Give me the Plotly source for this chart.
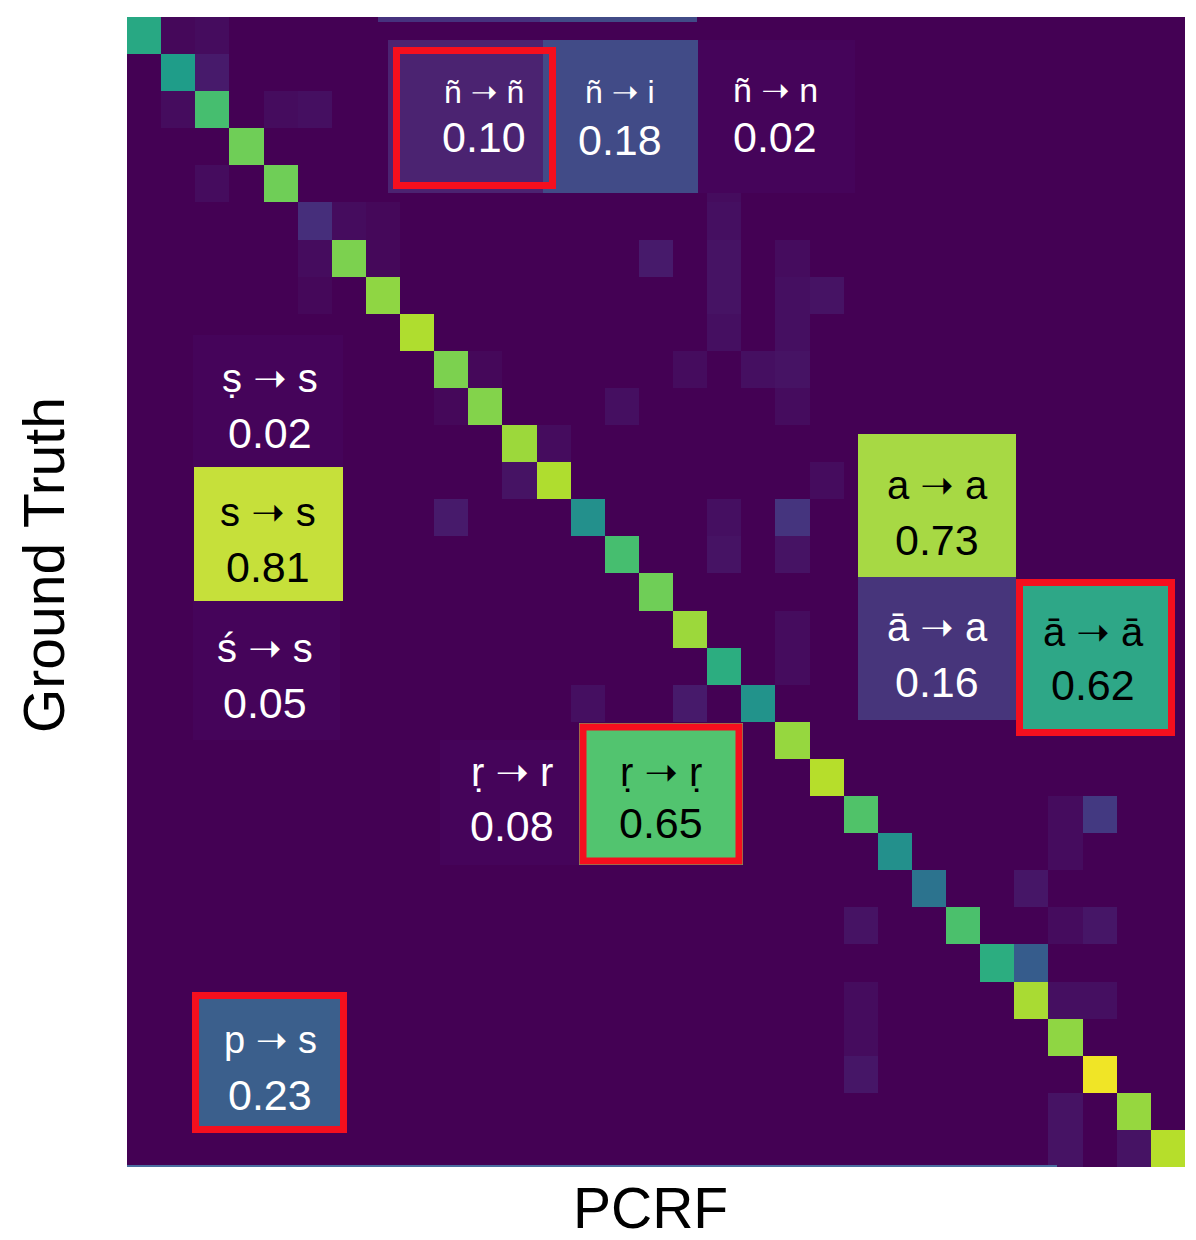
import numpy as np
import plotly.graph_objects as go

# Matrixgröße (Klassen)
N = 31

# Diagonale (Trefferquote je Klasse, aus Farbe geschätzt)
diag_vals = [0.60, 0.55, 0.70, 0.78, 0.78, 0.13, 0.80, 0.83, 0.88, 0.80, 0.81,
             0.85, 0.88, 0.50, 0.70, 0.78, 0.85, 0.62, 0.51, 0.84, 0.89, 0.72,
             0.50, 0.38, 0.71, 0.62, 0.87, 0.83, 0.98, 0.84, 0.89]

# Verwechslungen ausserhalb der Diagonale
off_rows = [0, 0, 1, 2, 2, 2, 4, 5, 5, 6, 6, 7, 4, 5, 6, 7, 8, 6, 9, 10, 9,
            6, 7, 8, 9, 10, 7, 13, 12, 11, 10, 9, 13, 14, 13, 14, 12, 18, 18,
            17, 16, 21, 21, 22, 23, 24, 24, 24, 25, 26, 27, 28, 26, 26, 29, 30, 30]
off_cols = [1, 2, 2, 1, 4, 5, 2, 6, 7, 5, 7, 5, 17, 17, 17, 17, 17, 15, 16, 14, 18,
            19, 19, 19, 19, 19, 20, 9, 11, 12, 9, 10, 17, 17, 19, 19, 20, 16, 13,
            19, 19, 28, 27, 27, 26, 28, 27, 21, 26, 21, 21, 21, 27, 28, 27, 27, 29]
off_vals = [0.02, 0.03, 0.07, 0.03, 0.03, 0.04, 0.03, 0.03, 0.02, 0.03, 0.02, 0.02,
            0.03, 0.04, 0.05, 0.05, 0.04, 0.07, 0.03, 0.04, 0.04,
            0.03, 0.04, 0.04, 0.05, 0.03, 0.05, 0.07, 0.05, 0.03, 0.02, 0.02,
            0.04, 0.05, 0.15, 0.05, 0.03, 0.07, 0.04, 0.03, 0.03,
            0.17, 0.03, 0.03, 0.06, 0.06, 0.03, 0.05, 0.29, 0.03, 0.03, 0.06,
            0.04, 0.04, 0.05, 0.05, 0.05]

# Hervorgehobene Ausschnitte: (Original, Vorhersage, Anteil)
box_src = ["ñ", "ñ", "ñ", "ṣ", "s", "ś", "a", "ā", "ā", "ṛ", "ṛ", "p"]
box_dst = ["ñ", "i", "n", "s", "s", "s", "a", "a", "ā", "r", "ṛ", "s"]
box_values = ["0.10", "0.18", "0.02", "0.02", "0.81", "0.05",
              "0.73", "0.16", "0.62", "0.08", "0.65", "0.23"]

z = np.zeros((N, N))
for i, v in enumerate(diag_vals):
    z[i, i] = v
for r, c, v in zip(off_rows, off_cols, off_vals):
    z[r, c] = v

# Plotfläche in Bildpixeln
L, T, W, H = 127, 17, 1058, 1150
OFF = 8  # Seitenrand des Browsers
def px(x):
    return (x - L) / W
def py(y):
    return 1 - (y - T) / H

# Position/Stil der Ausschnitte (Pixel im Bild)
faint = "#45045a"
boxes = [
    dict(rect=(388, 40, 543, 193), fill="#4b2371", tx=484, ty=(92, 137), fc="white", ls=32),
    dict(rect=(543, 40, 698, 193), fill="#414b87", tx=620, ty=(92, 140), fc="white", ls=32),
    dict(rect=(698, 40, 855, 193), fill=faint, tx=775, ty=(90, 137), fc="white", ls=34),
    dict(rect=(193, 335, 343, 467), fill=faint, tx=270, ty=(378, 433), fc="white", ls=40),
    dict(rect=(194, 467, 343, 601), fill="#c6e03a", tx=268, ty=(512, 567), fc="black", ls=40),
    dict(rect=(193, 601, 340, 740), fill=faint, tx=265, ty=(648, 703), fc="white", ls=40),
    dict(rect=(858, 434, 1016, 577), fill="#a7d944", tx=937, ty=(485, 540), fc="black", ls=40),
    dict(rect=(858, 577, 1016, 720), fill="#47357b", tx=937, ty=(627, 682), fc="white", ls=40),
    dict(rect=(1016, 579, 1175, 736), fill="#2ea787", tx=1093, ty=(632, 685), fc="black", ls=40),
    dict(rect=(440, 740, 579, 865), fill=faint, tx=512, ty=(772, 826), fc="white", ls=40),
    dict(rect=(579, 723, 743, 865), fill="#52c46f", tx=661, ty=(772, 823), fc="black", ls=40),
    dict(rect=(192, 992, 347, 1133), fill="#3b5f8c", tx=270, ty=(1040, 1095), fc="white", ls=38),
]
red_frames = [(396.5, 50.5, 552.5, 185.5), (1019.5, 582.5, 1171.5, 732.5),
              (583, 727, 739, 861), (195.5, 995.5, 343.5, 1129.5)]

fig = go.Figure()
fig.add_trace(go.Heatmap(z=z, x=list(range(N)), y=list(range(N)),
                         colorscale="Viridis", zmin=0, zmax=1, showscale=False,
                         hoverinfo="skip"))

shapes = []
# abgeschnittene Streifen oben
shapes.append(dict(type="rect", xref="paper", yref="paper", x0=px(378), x1=px(540),
                   y0=py(22), y1=py(17), fillcolor="#46327e", line_width=0))
shapes.append(dict(type="rect", xref="paper", yref="paper", x0=px(540), x1=px(697),
                   y0=py(22), y1=py(17), fillcolor="#414b87", line_width=0))
for b in boxes:
    x0, y0, x1, y1 = b["rect"]
    shapes.append(dict(type="rect", xref="paper", yref="paper", x0=px(x0), x1=px(x1),
                       y0=py(y1), y1=py(y0), fillcolor=b["fill"], line_width=0))
for x0, y0, x1, y1 in red_frames:
    shapes.append(dict(type="rect", xref="paper", yref="paper", x0=px(x0), x1=px(x1),
                       y0=py(y1), y1=py(y0), line=dict(color="#f50f1e", width=7)))
shapes.append(dict(type="line", xref="paper", yref="paper", x0=0, x1=px(1057),
                   y0=py(1166), y1=py(1166), line=dict(color="#4a6ea0", width=2)))

font = "Liberation Sans, Arial, sans-serif"
arrow = "<span style='font-family:DejaVu Sans'>➝</span>"
annotations = []
for b, s, d, val in zip(boxes, box_src, box_dst, box_values):
    annotations.append(dict(x=px(b["tx"]), y=py(b["ty"][0]), xref="paper", yref="paper",
                            text=f"{s} {arrow} {d}", showarrow=False,
                            xanchor="center", yanchor="middle",
                            font=dict(family=font, size=b["ls"], color=b["fc"])))
    annotations.append(dict(x=px(b["tx"]), y=py(b["ty"][1]), xref="paper", yref="paper",
                            text=val, showarrow=False, xanchor="center", yanchor="middle",
                            font=dict(family=font, size=43, color=b["fc"])))

# Achsentitel
annotations.append(dict(x=px(650), y=py(1208), xref="paper", yref="paper", text="PCRF",
                        showarrow=False, xanchor="center", yanchor="middle",
                        font=dict(family=font, size=57, color="black")))
annotations.append(dict(x=px(44), y=py(565), xref="paper", yref="paper", text="Ground Truth",
                        showarrow=False, xanchor="center", yanchor="middle", textangle=-90,
                        font=dict(family=font, size=57, color="black")))

fig.update_layout(
    width=1196 - OFF, height=1240 - OFF,
    margin=dict(l=L - OFF, r=1196 - L - W, t=T - OFF, b=1240 - T - H),
    paper_bgcolor="white", plot_bgcolor="white",
    xaxis=dict(range=[-0.5, N - 0.5], showticklabels=False, ticks="", showgrid=False,
               zeroline=False),
    yaxis=dict(range=[N - 0.5, -0.5], showticklabels=False, ticks="", showgrid=False,
               zeroline=False),
    shapes=shapes,
    annotations=annotations,
)
fig.write_html("out.html")
